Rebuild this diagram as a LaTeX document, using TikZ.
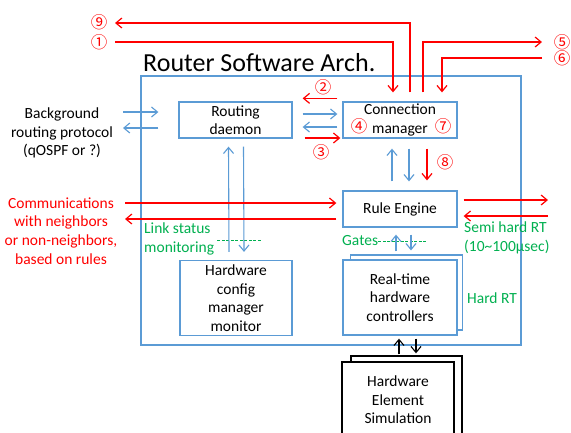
\documentclass[tikz,border=0pt]{standalone}
\usepackage{fontspec}
\setmainfont{Carlito}
\newfontfamily\cjk{Noto Sans CJK JP}
\usetikzlibrary{arrows.meta}
\definecolor{myred}{HTML}{FF0000}
\definecolor{myblue}{HTML}{5B9BD5}
\definecolor{mygreen}{HTML}{00B050}
\newcommand{\bodyfont}{\fontsize{15.5}{18.5}\selectfont}
\tikzset{
  tip/.tip={Straight Barb[length=6pt,width=10pt]},
  box/.style={draw=myblue, line width=1.3pt, fill=white, align=center, inner sep=0pt, font=\bodyfont},
  simbox/.style={draw=black, line width=1.4pt, fill=white, align=center, inner sep=0pt, font=\bodyfont},
  txt/.style={inner sep=0pt, font=\bodyfont},
  barr/.style={draw=myblue, line width=1.1pt, -tip},
  rarr/.style={draw=myred, line width=1.2pt, -tip},
  karr/.style={draw=black, line width=1.1pt, -tip},
  num/.style={text=myred, inner sep=0pt, font=\cjk\fontsize{16.5}{17}\selectfont},
  gdash/.style={draw=mygreen, line width=0.9pt, dash pattern=on 3pt off 1.5pt},
}
\begin{document}
\begin{tikzpicture}[x=1pt,y=-1pt]
\clip (0,0) rectangle (571,432);
\fill[white] (0,0) rectangle (571,432);
% outer box and title
\node[draw=myblue, line width=1.3pt, minimum width=380pt, minimum height=269pt, inner sep=0pt] (outer) at (331,210.5) {};
\node[anchor=base west, inner sep=0pt, font=\fontsize{26}{30}\selectfont] (title) at (143,71.5) {Router Software Arch.};
% boxes
\node[box, minimum width=113pt, minimum height=36pt] (rd) at (235.5,120) {Routing\\daemon};
\node[box, minimum width=114pt, minimum height=36pt] (cm) at (400,120) {Connection\\manager};
\node[box, minimum width=114pt, minimum height=36pt] (re) at (400,209) {Rule Engine};
\node[box, minimum width=112pt, minimum height=75pt] (hw) at (236,298) {Hardware\\config\\manager\\monitor};
\node[box, minimum width=112pt, minimum height=75pt] (rtb) at (406.5,292.5) {};
\node[box, minimum width=114pt, minimum height=75pt] (rt) at (400,297.5) {Real-time\\hardware\\controllers};
\node[simbox, minimum width=111pt, minimum height=82pt] (simb) at (406.5,397) {};
\node[simbox, minimum width=112pt, minimum height=76pt] (sim) at (398,400) {Hardware\\Element\\Simulation};
% texts
\node[txt, align=center] (bg) at (62,133) {Background\\routing protocol\\(qOSPF or ?)};
\node[txt, align=center, text=myred, font=\fontsize{15.5}{18.8}\selectfont] (comm) at (61,231) {Communications\\with neighbors\\or non-neighbors,\\based on rules};
\node[txt, align=left, text=mygreen, anchor=west, font=\fontsize{15.5}{19.5}\selectfont] (lst) at (144,239) {Link status\\monitoring};
\node[txt, text=mygreen, anchor=west] (gates) at (342,241) {Gates};
\node[txt, align=left, text=mygreen, anchor=west, font=\fontsize{15.5}{19.5}\selectfont] (semi) at (464,238) {Semi hard RT\\(10\textasciitilde100µsec)};
\node[txt, text=mygreen, anchor=west] (hard) at (467,298) {Hard RT};
% circled numbers
\node[num] (n9) at (99,22) {⑨};
\node[num] (n1) at (99,42) {①};
\node[num] (n5) at (562,42) {⑤};
\node[num] (n6) at (562,58) {⑥};
\node[num] (n2) at (323,87) {②};
\node[num] (n3) at (321,152) {③};
\node[num] (n4) at (359,126) {④};
\node[num] (n7) at (443,126) {⑦};
\node[num] (n8) at (445,162) {⑧};
% free ends
\coordinate (e9) at (115,23);
\coordinate (e1) at (115,42);
\coordinate (e5) at (542,42);
\coordinate (e6) at (542,58);
\coordinate (b1) at (123,112);
\coordinate (b2) at (123,128);
\coordinate (cl1) at (125,203);
\coordinate (cl2) at (125,219);
\coordinate (cr1) at (548,200);
\coordinate (cr2) at (548,216);
% green dashed
\draw[gdash] ([xshift=3pt,yshift=-1pt]lst.east) -- ++(44,0);
\draw[gdash] (gates.east) -- ++(48,0);
% red top arrows
\draw[rarr] ([xshift=10pt,yshift=9pt]cm.north) |- (e9);
\draw[rarr] (e1) -| ([xshift=-7pt,yshift=9pt]cm.north);
\draw[rarr] ([xshift=23pt,yshift=9pt]cm.north) |- (e5);
\draw[rarr] (e6) -| ([xshift=42pt,yshift=9pt]cm.north);
% rd <-> cm
\draw[rarr] ([xshift=-5pt,yshift=3pt]cm.north west) -- ([xshift=10pt,yshift=3pt]rd.north east);
\draw[barr] ([xshift=10pt,yshift=6pt]rd.east) -- ([xshift=-5pt,yshift=6pt]cm.west);
\draw[barr] ([xshift=-5pt,yshift=-7pt]cm.west) -- ([xshift=10pt,yshift=-7pt]rd.east);
\draw[rarr] ([xshift=12pt,yshift=-18pt]rd.east) -- ([xshift=-2pt,yshift=-18pt]cm.west);
% background protocol
\draw[barr] (b1) -- ([xshift=-20pt,yshift=8pt]rd.west);
\draw[barr] ([xshift=-20pt,yshift=-8pt]rd.west) -- (b2);
% rd <-> hw
\draw[barr] ([xshift=-7pt,yshift=8pt]hw.north) -- ([xshift=-7pt,yshift=-8pt]rd.south);
\draw[barr] ([xshift=8pt,yshift=-8pt]rd.south) -- ([xshift=8pt,yshift=8pt]hw.north);
% cm <-> re
\draw[barr] ([xshift=-8pt,yshift=9pt]re.north) -- ([xshift=-8pt,yshift=-10pt]cm.south);
\draw[barr] ([xshift=9pt,yshift=-10pt]cm.south) -- ([xshift=9pt,yshift=9pt]re.north);
\draw[rarr] ([xshift=27pt,yshift=-10pt]cm.south) -- ([xshift=27pt,yshift=10pt]re.north);
% re <-> rt
\draw[barr] ([xshift=-4pt,yshift=8pt]rt.north) -- ([xshift=-4pt,yshift=-7pt]re.south);
\draw[barr] ([xshift=11pt,yshift=-7pt]re.south) -- ([xshift=11pt,yshift=9pt]rt.north);
% communications
\draw[rarr] (cl1) -- ([xshift=-6pt,yshift=6pt]re.west);
\draw[rarr] ([xshift=-6pt,yshift=-10pt]re.west) -- (cl2);
\draw[rarr] ([xshift=6pt,yshift=9pt]re.east) -- (cr1);
\draw[rarr] (cr2) -- ([xshift=6pt,yshift=-7pt]re.east);
% rt <-> sim
\draw[karr] ([xshift=1pt,yshift=7pt]sim.north) -- ([xshift=-1pt,yshift=-3pt]rt.south);
\draw[karr] ([xshift=16pt,yshift=-3pt]rt.south) -- ([xshift=18pt,yshift=8pt]sim.north);
\end{tikzpicture}
\end{document}
